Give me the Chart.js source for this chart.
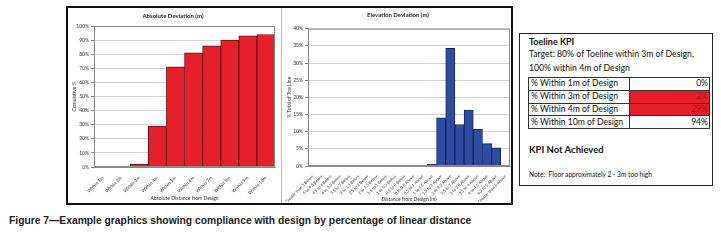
<!DOCTYPE html>
<html>
<head>
<meta charset="utf-8">
<script src="https://cdn.jsdelivr.net/npm/chart.js@4.4.1/dist/chart.umd.min.js"></script>
<style>
  html, body { margin: 0; padding: 0; background: #fff; }
  body { width: 721px; height: 248px; position: relative; overflow: hidden; font-family: Lato, "Open Sans", sans-serif; }
  #frame { position: absolute; left: 66px; top: 6px; width: 447px; height: 199px; border: 2px solid #111; box-sizing: border-box; }
  #divider { position: absolute; left: 281px; top: 8px; width: 1px; height: 195px; background: #bdbdbd; }
  #absChart { position: absolute; left: 67px; top: 8px; }
  #elevChart { position: absolute; left: 283px; top: 8px; }
  #kpi { position: absolute; left: 519px; top: 33px; width: 194px; height: 153px; border: 1.5px solid #222; box-sizing: border-box; color: #111; }
  #kpi .ln { position: absolute; left: 9px; white-space: nowrap; }
  #kpi table { position: absolute; left: 8px; top: 43px; width: 182px; border-collapse: collapse; table-layout: fixed; font-size: 8.6px; }
  #kpi td { border: 1px solid #333; height: 11.8px; padding: 0 1px 0 2px; line-height: 11px; white-space: nowrap; overflow: hidden; }
  #kpi td.l { width: 97px; }
  #kpi td.v { text-align: right; }
  #kpi td.bad { background: #e6202a; color: #b0121a; }
  #caption { position: absolute; left: 9px; top: 215px; font: bold 10.3px "Liberation Sans", Arial, sans-serif; color: #222; white-space: nowrap; }
</style>
</head>
<body>
<div id="frame"></div>
<canvas id="absChart" width="214" height="196"></canvas>
<div id="divider"></div>
<canvas id="elevChart" width="228" height="196"></canvas>
<div id="kpi"></div>
<div id="caption">Figure 7&#8212;Example graphics showing compliance with design by percentage of linear distance</div>

<script>
// Datos
const absLabels = ['Within 1m', 'Within 2m', 'Within 3m', 'Within 4m', 'Within 5m',
                   'Within 6m', 'Within 7m', 'Within 8m', 'Within 9m', 'Within 10m'];
const absValues = [0, 0, 2, 29, 71, 81, 86, 90, 93, 94];

const elevLabels = ['Greater than 5 Below', '5 to 4.5 Below', '4.5 to 4 Below', '4 to 3.5 Below',
                    '3.5 to 3 Below', '3 to 2.5 Below', '2.5 to 2 Below', '2 to 1.5 Below',
                    '1.5 to 1 Below', '1 to 0.5 Below', '0.5 to 0 Below', '0 to 0.5 Above',
                    '0.5 to 1 Above', '1 to 1.5 Above', '1.5 to 2 Above', '2 to 2.5 Above',
                    '2.5 to 3 Above', '3 to 3.5 Above', '3.5 to 4 Above', '4 to 4.5 Above',
                    '4.5 to 5 Above', 'Greater than 5 Above'];
const elevValues = [0, 0, 0, 0, 0, 0, 0, 0, 0, 0, 0, 0, 0, 0.5, 14, 34.3, 12.1, 16.3, 10.7, 6.5, 5.3, 0];

const kpiLabels = ['% Within 1m of Design', '% Within 3m of Design', '% Within 4m of Design', '% Within 10m of Design'];
const kpiValues = [0, 2, 29, 94];
const kpiFailed = [false, true, true, false];

const FONT = 'Lato';

// Borde del area de trazado
const plotBorder = {
    id: 'plotBorder',
    afterDraw(chart) {
        const a = chart.chartArea;
        const ctx = chart.ctx;
        ctx.save();
        ctx.strokeStyle = '#8a8a8a';
        ctx.lineWidth = 1;
        ctx.strokeRect(a.left + 0.5, a.top + 0.5, a.right - a.left - 1, a.bottom - a.top - 1);
        ctx.restore();
    }
};

function makeChart(id, labels, values, opts) {
    return new Chart(document.getElementById(id), {
        type: 'bar',
        data: {
            labels: labels,
            datasets: [{
                data: values,
                backgroundColor: opts.color,
                borderColor: opts.border,
                borderWidth: 1,
                categoryPercentage: 1,
                barPercentage: 1
            }]
        },
        options: {
            responsive: false,
            animation: false,
            devicePixelRatio: 1,
            layout: { padding: opts.padding },
            plugins: {
                legend: { display: false },
                tooltip: { enabled: false },
                title: {
                    display: true,
                    text: opts.title,
                    color: '#222',
                    font: { family: FONT, size: 6, weight: 'bold' },
                    padding: opts.titlePad
                }
            },
            scales: {
                x: {
                    grid: { display: false },
                    border: { color: '#888' },
                    ticks: {
                        autoSkip: false, maxRotation: 45, minRotation: 45, padding: 0,
                        color: '#333', font: { family: FONT, size: opts.xFont }
                    },
                    title: {
                        display: true, text: opts.xTitle, color: '#333',
                        font: { family: FONT, size: 5 }, padding: { top: 0, bottom: 0 }
                    },
                    afterFit: s => { s.height = opts.xHeight; s.paddingLeft = 0; s.paddingRight = 0; }
                },
                y: {
                    min: 0, max: opts.max,
                    grid: { color: '#d2d2d2', tickLength: 3, tickColor: '#888' },
                    border: { color: '#888' },
                    ticks: {
                        stepSize: opts.step, padding: 2, color: '#333',
                        font: { family: FONT, size: 5 },
                        callback: v => v + '%'
                    },
                    title: {
                        display: true, text: opts.yTitle, color: '#333',
                        font: { family: FONT, size: 5 }, padding: 0
                    },
                    afterFit: s => { s.width = opts.yWidth; }
                }
            }
        },
        plugins: [plotBorder]
    });
}

makeChart('absChart', absLabels, absValues, {
    color: '#e6202a', border: '#6e1014',
    title: 'Absolute Deviation (m)', titlePad: { top: 4, bottom: 6.8 },
    xTitle: 'Absolute Distance from Design', yTitle: 'Cumulative %',
    max: 100, step: 10, xFont: 4.6,
    padding: { left: 4, right: 6, top: 0, bottom: 3 },
    xHeight: 34, yWidth: 23
});

makeChart('elevChart', elevLabels, elevValues, {
    color: '#2f4ca3', border: '#16265e',
    title: 'Elevation Deviation (m)', titlePad: { top: 3.5, bottom: 10 },
    xTitle: 'Distance from Design (m)', yTitle: '% Total of Toe Line',
    max: 40, step: 5, xFont: 4,
    padding: { left: 3, right: 1, top: 0, bottom: 2 },
    xHeight: 36, yWidth: 22
});

// Cuadro KPI
const kpi = document.getElementById('kpi');
kpi.innerHTML = `
    <div class="ln" style="top:2px;font-size:9px;font-weight:bold">Toeline KPI</div>
    <div class="ln" style="top:14px;font-size:8.7px">Target: 80% of Toeline within 3m of Design,</div>
    <div class="ln" style="top:28px;font-size:8.7px">100% within 4m of Design</div>
`;
const table = document.createElement('table');
kpiLabels.forEach((lab, i) => {
    const tr = document.createElement('tr');
    tr.innerHTML = `<td class="l">${lab}</td><td class="v${kpiFailed[i] ? ' bad' : ''}">${kpiValues[i]}%</td>`;
    table.appendChild(tr);
});
kpi.appendChild(table);
kpi.insertAdjacentHTML('beforeend', `
    <div class="ln" style="top:110px;font-size:9.5px;font-weight:bold">KPI Not Achieved</div>
    <div class="ln" style="top:136px;font-size:6.6px">Note:&nbsp; Floor approximately 2 - 3m too high</div>
`);
</script>
</body>
</html>
